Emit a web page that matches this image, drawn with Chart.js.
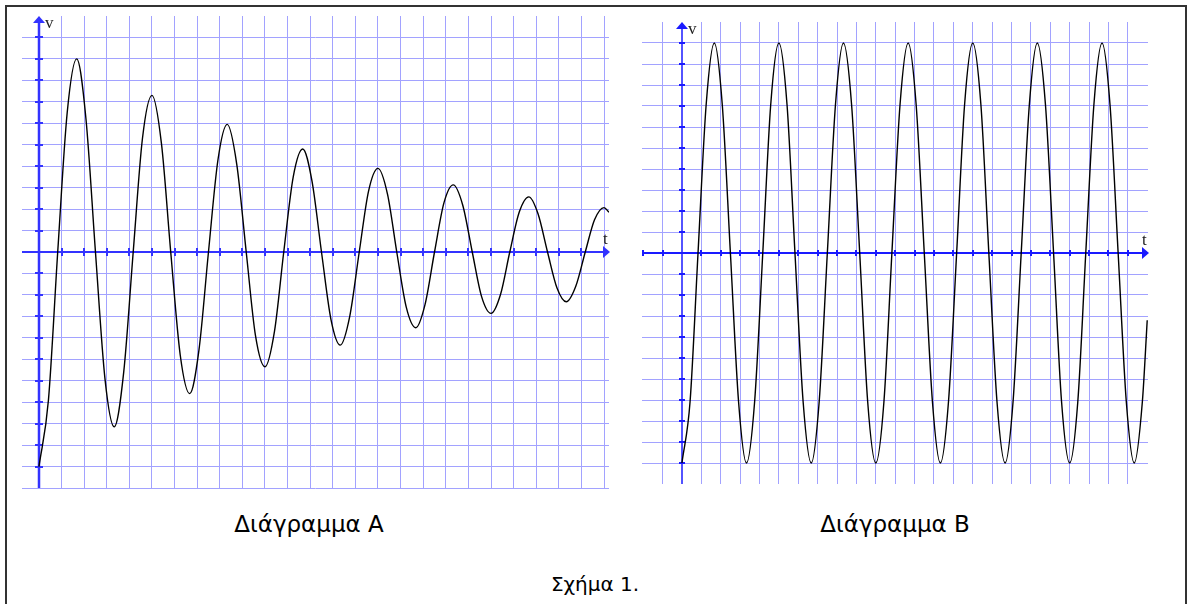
<!DOCTYPE html>
<html><head><meta charset="utf-8">
<script src="https://cdn.jsdelivr.net/npm/chart.js@4.4.1/dist/chart.umd.min.js"></script>
<style>
html,body{margin:0;padding:0;background:#fff;width:1190px;height:604px;overflow:hidden;}
#frame{position:absolute;left:5px;top:5px;width:1182px;height:660px;border:2px solid #333;box-sizing:border-box;}
.cv{position:absolute;}
.cap{position:absolute;font-family:"DejaVu Sans";font-size:23px;line-height:23px;color:#000;text-align:center;width:400px;white-space:nowrap;}
</style></head><body>
<div id="frame"></div>
<div class="cv" style="left:0;top:0;width:620px;height:500px"><canvas id="cA" width="620" height="500"></canvas></div>
<div class="cv" style="left:630px;top:0;width:530px;height:500px"><canvas id="cB" width="530" height="500"></canvas></div>
<div class="cap" style="left:109px;top:513px">Διάγραμμα Α</div>
<div class="cap" style="left:695px;top:513px">Διάγραμμα Β</div>
<div class="cap" style="left:395px;top:574px;font-size:20px;line-height:20px">Σχήμα 1.</div>
<script>
// ---- Data ----
const tA = [0,0.42,0.83,1.25,1.67,2.08,2.5,2.92, 3.33,3.75,4.17,4.58,5,5.42,5.83,6.25,
  6.67,7.08,7.5,7.92,8.33,8.75,9.17,9.58, 10,10.42,10.83,11.25,11.67,12.08,12.5,12.92,
  13.33,13.75,14.17,14.58,15,15.42,15.83,16.25, 16.67,17.08,17.5,17.92,18.33,18.75,19.17,19.58,
  20,20.42,20.83,21.25,21.67,22.08,22.5,22.92, 23.33,23.75,24.17,24.58,25,25.22];
const vA = [-10,-6.9,0,6.5,9.0,6.2,0,-5.9, -8.15,-5.6,0,5.3,7.3,5.05,0,-4.8,
  -6.6,-4.56,0,4.3,5.95,4.1,0,-3.9, -5.35,-3.7,0,3.5,4.8,3.3,0,-3.15,
  -4.34,-3.0,0,2.83,3.9,2.7,0,-2.57, -3.53,-2.45,0,2.3,3.13,2.18,0,-2.07,
  -2.86,-1.98,0,1.86,2.57,1.78,0,-1.68, -2.32,-1.6,0,1.5,2.07,1.85];
const tB = [0,0.42,0.83,1.25,1.67,2.08,2.5,2.92, 3.33,3.75,4.17,4.58,5,5.42,5.83,6.25,
  6.67,7.08,7.5,7.92,8.33,8.75,9.17,9.58, 10,10.42,10.83,11.25,11.67,12.08,12.5,12.92,
  13.33,13.75,14.17,14.58,15,15.42,15.83,16.25, 16.67,17.08,17.5,17.92,18.33,18.75,19.17,19.58,
  20,20.42,20.83,21.25,21.67,22.08,22.5,22.92, 23.33,23.75,24];
const vB = [-10,-7.07,0,7.07,10,7.07,0,-7.07, -10,-7.07,0,7.07,10,7.07,0,-7.07,
  -10,-7.07,0,7.07,10,7.07,0,-7.07, -10,-7.07,0,7.07,10,7.07,0,-7.07,
  -10,-7.07,0,7.07,10,7.07,0,-7.07, -10,-7.07,0,7.07,10,7.07,0,-7.07,
  -10,-7.07,0,7.07,10,7.07,0,-7.07, -10,-7.07,-3.2];
// grid / tick positions
const gridXA = [1,2,3,4,5,6,7,8,9,10,11,12,13,14,15,16,17,18,19,20,21,22,23,24,25];
const gridYA = [-11,-10,-9,-8,-7,-6,-5,-4,-3,-2,-1,1,2,3,4,5,6,7,8,9,10];
const axisTicksXA = [1,2,3,4,5,6,7,8,9,10,11,12,13,14,15,16,17,18,19,20,21,22,23,24];
const axisTicksYA = [-10,-9,-8,-7,-6,-5,-4,-3,-2,-1,1,2,3,4,5,6,7,8,9,10];
const gridXB = [-1,1,2,3,4,5,6,7,8,9,10,11,12,13,14,15,16,17,18,19,20,21,22,23];
const gridYB = [-10,-9,-8,-7,-6,-5,-4,-3,-2,-1,1,2,3,4,5,6,7,8,9,10];
const axisTicksXB = [-2,-1,1,2,3,4,5,6,7,8,9,10,11,12,13,14,15,16,17,18,19,20,21,22,23];
const axisTicksYB = [-10,-9,-8,-7,-6,-5,-4,-3,-2,-1,1,2,3,4,5,6,7,8,9,10];

const GRID = '#a2a2ff';

const axesPlugin = {
  id: 'axes',
  beforeDatasetsDraw(chart, args, o) {
    const {ctx, chartArea: a, scales: {x, y}} = chart;
    const x0 = Math.round(x.getPixelForValue(0)), y0 = Math.round(y.getPixelForValue(0));
    ctx.save();
    ctx.strokeStyle = o.color; ctx.fillStyle = o.color;
    ctx.lineWidth = o.yw;
    ctx.beginPath(); ctx.moveTo(x0, a.bottom); ctx.lineTo(x0, a.top + 5); ctx.stroke();
    ctx.lineWidth = o.xw;
    ctx.beginPath(); ctx.moveTo(a.left, y0); ctx.lineTo(a.right - 5, y0); ctx.stroke();
    ctx.lineWidth = 2;
    ctx.beginPath();
    o.ty.forEach(v => { const p = Math.round(y.getPixelForValue(v)); ctx.moveTo(x0 - o.tl, p); ctx.lineTo(x0 + o.tl, p); });
    o.tx.forEach(v => { const p = Math.round(x.getPixelForValue(v)); ctx.moveTo(p, y0 - o.tl); ctx.lineTo(p, y0 + o.tl); });
    ctx.stroke();
    ctx.beginPath(); ctx.moveTo(x0, a.top); ctx.lineTo(x0 - 6, a.top + 7); ctx.lineTo(x0 + 6, a.top + 7); ctx.closePath(); ctx.fill();
    ctx.beginPath(); ctx.moveTo(a.right + 1, y0); ctx.lineTo(a.right - 6, y0 - 6); ctx.lineTo(a.right - 6, y0 + 6); ctx.closePath(); ctx.fill();
    ctx.fillStyle = '#222';
    ctx.font = '17px "Liberation Serif"';
    ctx.textBaseline = 'alphabetic';
    ctx.fillText('v', x0 + 6, a.top + 12);
    ctx.fillText('t', a.right - 6, y0 - 8);
    ctx.restore();
  }
};

function makeChart(id, t, v, opts) {
  const data = t.map((tt, i) => ({x: tt, y: v[i]}));
  return new Chart(document.getElementById(id), {
    type: 'line',
    data: { datasets: [{ data, borderColor: '#000', borderWidth: 1.4, pointRadius: 0, fill: false, cubicInterpolationMode: 'monotone' }] },
    options: {
      responsive: false, animation: false, devicePixelRatio: 1,
      layout: { padding: opts.pad },
      plugins: { legend: {display: false}, tooltip: {enabled: false}, axes: opts.axes },
      scales: {
        x: { type: 'linear', min: opts.xmin, max: opts.xmax,
             afterBuildTicks: s => { s.ticks = opts.gx.map(q => ({value: q})); },
             grid: {color: GRID, lineWidth: 1, drawTicks: false}, border: {display: false}, ticks: {display: false} },
        y: { type: 'linear', min: -11, max: 11,
             afterBuildTicks: s => { s.ticks = opts.gy.map(q => ({value: q})); },
             grid: {color: GRID, lineWidth: 1, drawTicks: false}, border: {display: false}, ticks: {display: false} }
      }
    },
    plugins: [axesPlugin]
  });
}

makeChart('cA', tA, vA, {
  pad: {left: 22, top: 16, right: 11, bottom: 12}, xmin: -0.75, xmax: 25.22, gx: gridXA, gy: gridYA,
  axes: {color: '#3333ff', xw: 2, yw: 2.5, tl: 4, tx: axisTicksXA, ty: axisTicksYA}
});
makeChart('cB', tB, vB, {
  pad: {left: 12, top: 22, right: 12, bottom: 16}, xmin: -2.06, xmax: 24.04, gx: gridXB, gy: gridYB,
  axes: {color: '#1a1aff', xw: 2, yw: 1.5, tl: 3, tx: axisTicksXB, ty: axisTicksYB}
});
</script>
</body></html>
